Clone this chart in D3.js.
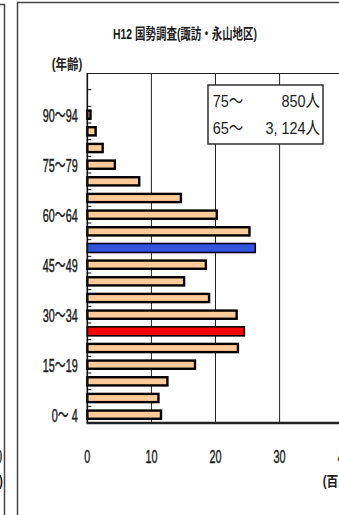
<!DOCTYPE html>
<html>
<head>
<meta charset="utf-8">
<script src="https://cdn.jsdelivr.net/npm/d3@7/dist/d3.min.js"></script>
<style>
  html, body { margin: 0; padding: 0; background: #fff; }
  svg { display: block; }
</style>
</head>
<body>
<script>
// Age groups, youngest first (population in hundreds of people)
const ageGroups = ["0～ 4","5～ 9","10～14","15～19","20～24","25～29","30～34","35～39",
  "40～44","45～49","50～54","55～59","60～64","65～69","70～74","75～79","80～84",
  "85～89","90～94","95～99","100～"];
const population = [11.5, 11.1, 12.5, 16.8, 23.5, 24.5, 23.3, 19.0, 15.1, 18.5,
  26.2, 25.3, 20.2, 14.6, 8.1, 4.3, 2.4, 1.3, 0.5, 0, 0];
const highlight = { "25～29": "#ff0000", "50～54": "#3355dd" };
const ageTickLabels = ["0～ 4","15～19","30～34","45～49","60～64","75～79","90～94"];
const xTicks = [0, 10, 20, 30, 40];
const title = "H12 国勢調査(諏訪・永山地区)";
const yTitle = "(年齢)";
const xTitle = "(百人)";
const summaryLabels = ["75～", "65～"];
const summaryValues = ["850人", "3, 124人"];

const W = 339, H = 515;
const svg = d3.select("body").append("svg").attr("width", W).attr("height", H);
svg.append("rect").attr("width", W).attr("height", H).attr("fill", "#fff");

const ink = "#1c1c1c";
const font = "'Liberation Sans', 'Noto Sans CJK JP', sans-serif";

const x = d3.scaleLinear().domain([0, 40]).range([87.3, 343.7]);
const y = d3.scaleBand().domain(ageGroups.slice().reverse()).range([73, 423]);

// condensed text helper
function ctext(parent, px, py, str, size, sx, anchor, heavy) {
  const t = parent.append("g")
    .attr("transform", `translate(${px},${py}) scale(${sx},1)`)
    .append("text")
    .attr("text-anchor", anchor)
    .attr("font-family", font)
    .attr("font-size", size)
    .attr("fill", ink)
    .text(str);
  if (heavy) t.attr("stroke", ink).attr("stroke-width", 0.5);
  return t;
}

// neighbouring panel edge
svg.append("path").attr("d", "M0,4.5H4.5V515")
  .attr("fill", "none").attr("stroke", "#444").attr("stroke-width", 1.5);
ctext(svg, 2, 463, "40", 19, 0.57, "end", true);
svg.append("text").attr("x", 3).attr("y", 486).attr("text-anchor", "end")
  .attr("font-family", font).attr("font-size", 14).attr("font-weight", "bold")
  .attr("fill", ink).attr("textLength", 31).attr("lengthAdjust", "spacingAndGlyphs")
  .text(xTitle);

// panel frame
svg.append("path").attr("d", `M17.5,515V2.5H${W}`)
  .attr("fill", "none").attr("stroke", "#444").attr("stroke-width", 1.5);

// title
svg.append("text").attr("x", 113).attr("y", 38.5)
  .attr("font-family", font).attr("font-size", 14.5).attr("font-weight", "bold")
  .attr("fill", ink).attr("textLength", 144).attr("lengthAdjust", "spacingAndGlyphs")
  .text(title);

svg.append("text").attr("x", 51.7).attr("y", 69)
  .attr("font-family", font).attr("font-size", 14).attr("font-weight", "bold")
  .attr("fill", ink).attr("textLength", 30.6).attr("lengthAdjust", "spacingAndGlyphs")
  .text(yTitle);

// gridlines
const [y0, y1] = y.range();
svg.append("g").selectAll("line").data(xTicks.filter(d => d > 0)).join("line")
  .attr("x1", d => x(d)).attr("x2", d => x(d))
  .attr("y1", y0).attr("y2", y1)
  .attr("stroke", "#222").attr("stroke-width", 1);

// top border
svg.append("line").attr("x1", x(0)).attr("x2", W).attr("y1", y0 + 0.5).attr("y2", y0 + 0.5)
  .attr("stroke", "#222").attr("stroke-width", 1);

// bars
const data = ageGroups.map((g, i) => ({ g, v: population[i] })).filter(d => d.v > 0);
const barH = 8.2;
svg.append("g").selectAll("rect").data(data).join("rect")
  .attr("x", x(0))
  .attr("y", d => y(d.g) + y.bandwidth() / 2 - (highlight[d.g] ? 4.5 : barH / 2))
  .attr("width", d => x(d.v) - x(0))
  .attr("height", d => highlight[d.g] ? 9 : barH)
  .attr("fill", d => highlight[d.g] || "#ffcc99")
  .attr("stroke", "#000")
  .attr("stroke-width", d => highlight[d.g] ? 1.6 : 2.4);

// left axis with inward ticks at band boundaries
svg.append("line").attr("x1", x(0)).attr("x2", x(0)).attr("y1", y0).attr("y2", y1)
  .attr("stroke", "#111").attr("stroke-width", 1.6);
svg.append("g").selectAll("line").data(ageGroups.slice(0, -1)).join("line")
  .attr("x1", x(0)).attr("x2", x(0) + 4)
  .attr("y1", d => y(d)).attr("y2", d => y(d))
  .attr("stroke", "#111").attr("stroke-width", 1);

// bottom axis
svg.append("line").attr("x1", x(0) - 0.8).attr("x2", W).attr("y1", y1).attr("y2", y1)
  .attr("stroke", "#222").attr("stroke-width", 2.6);

// age tick labels
ageTickLabels.forEach(lbl => {
  ctext(svg, 77.7, y(lbl) + y.bandwidth() / 2 + 7, lbl, 19, 0.57, "end", true);
});

// x tick labels
xTicks.forEach(v => {
  ctext(svg, x(v), 463, String(v), 19, 0.57, "middle", true);
});
svg.append("text").attr("x", 322.7).attr("y", 486)
  .attr("font-family", font).attr("font-size", 14).attr("font-weight", "bold")
  .attr("fill", ink).attr("textLength", 31).attr("lengthAdjust", "spacingAndGlyphs")
  .text(xTitle);

// summary box
const box = svg.append("g");
box.append("rect").attr("x", 208).attr("y", 85).attr("width", 115).attr("height", 59)
  .attr("fill", "#fff").attr("stroke", "#222").attr("stroke-width", 1.4);
summaryLabels.forEach((s, i) => {
  ctext(box, 212.7, 107 + i * 27, s, 17, 0.85, "start");
  ctext(box, 320, 107 + i * 27, summaryValues[i], 17, 0.85, "end");
});
</script>
</body>
</html>
